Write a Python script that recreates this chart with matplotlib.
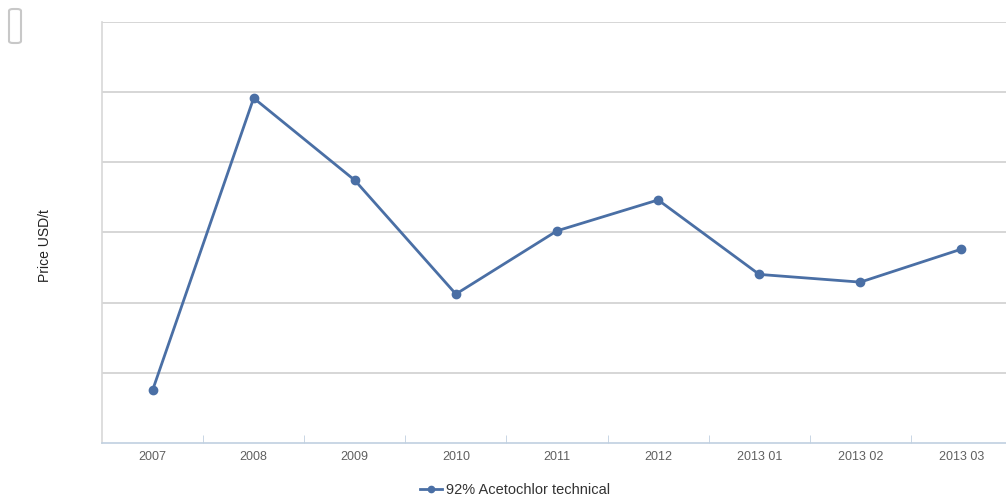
import matplotlib
matplotlib.use("Agg")
import matplotlib.pyplot as plt
from matplotlib.patches import FancyBboxPatch

plt.rcParams["font.family"] = ["Liberation Sans", "DejaVu Sans"]

categories = ["2007", "2008", "2009", "2010", "2011", "2012", "2013 01", "2013 02", "2013 03"]
prices = [0.75, 4.91, 3.74, 2.12, 3.02, 3.46, 2.40, 2.29, 2.76]
series_name = "92% Acetochlor technical"

fig = plt.figure(figsize=(10.06, 4.99), dpi=100)
ax = fig.add_axes([102 / 1006, 1 - 443 / 499, 910 / 1006, (443 - 21.5) / 499])

x = list(range(len(categories)))
line, = ax.plot(x, prices, color="#4a6fa5", linewidth=2.0, marker="o", markersize=6,
                markeredgecolor="#4a6fa5", markerfacecolor="#4a6fa5", zorder=3)

ax.set_xlim(-0.5, len(categories) - 0.5)
ax.set_ylim(0, 6)
ax.set_yticks([1, 2, 3, 4, 5, 6])
ax.set_yticklabels([])
ax.tick_params(axis="y", length=0)
ax.grid(axis="y", color="#d0d0d0", linewidth=1.2)
ax.set_axisbelow(True)

ax.set_xticks(x)
ax.set_xticklabels(categories, fontsize=9, color="#606060")
ax.tick_params(axis="x", length=0, pad=6)
ax.set_xticks([i + 0.5 for i in x[:-1]], minor=True)
ax.tick_params(axis="x", which="minor", direction="in", length=6, color="#c0d0e0")

for s in ["top", "right"]:
    ax.spines[s].set_visible(False)
ax.spines["left"].set_color("#d8d8d8")
ax.spines["left"].set_linewidth(1.2)
ax.spines["bottom"].set_color("#c0d0e0")
ax.spines["bottom"].set_linewidth(1.2)

fig.text(45 / 1006, 1 - 246 / 499, "Price USD/t", rotation=90, fontsize=10,
         ha="center", va="center", color="#222222")

# partial button at top-left corner
fig.patches.append(FancyBboxPatch((9 / 1006, 1 - 43 / 499), 12 / 1006, 34 / 499,
                                  boxstyle="round,pad=0,rounding_size=0.004",
                                  transform=fig.transFigure, facecolor="white",
                                  edgecolor="#c8c8c8", linewidth=1.5))

leg = fig.legend([line], [series_name], loc="center", bbox_to_anchor=(515 / 1006, 1 - 490 / 499),
                 frameon=False, fontsize=10.5, handlelength=1.5, handletextpad=0.3,
                 markerscale=0.75)
for t in leg.get_texts():
    t.set_color("#333333")

fig.savefig("out.png", dpi=100)
